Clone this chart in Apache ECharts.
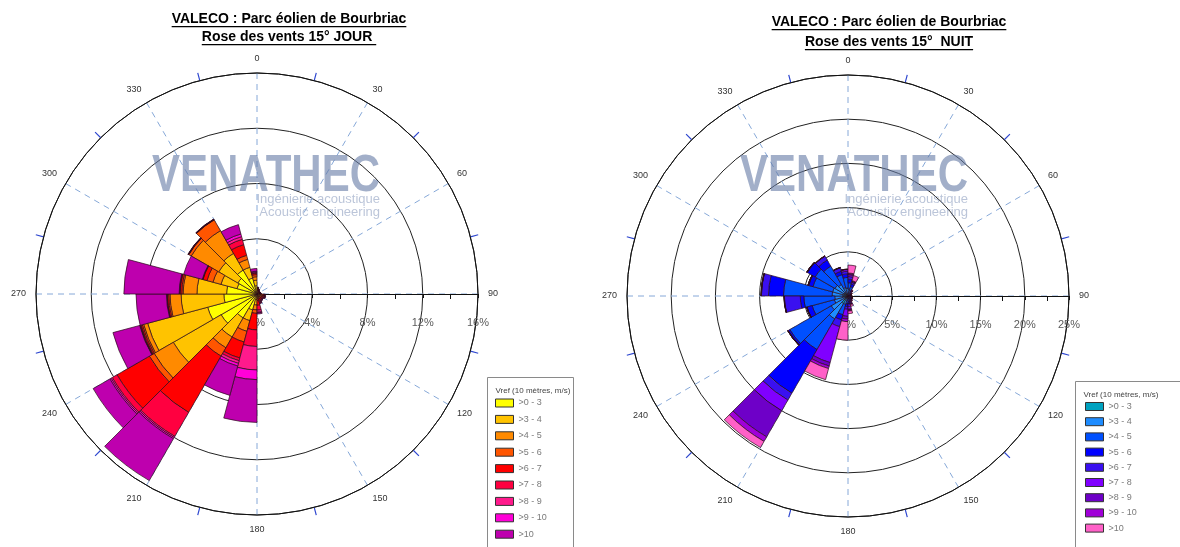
<!DOCTYPE html>
<html>
<head>
<meta charset="utf-8">
<script src="https://cdn.jsdelivr.net/npm/echarts@6/dist/echarts.min.js"></script>
<style>
html, body { margin: 0; padding: 0; background: #fff; }
#chart { width: 1180px; height: 547px; }
</style>
</head>
<body>
<div id="chart"></div>
<script>
// secteurs de 15°
var sectors = [];
for (var s = 0; s < 360; s += 15) sectors.push(String(s));

var binNames = ['>0 - 3', '>3 - 4', '>4 - 5', '>5 - 6', '>6 - 7', '>7 - 8', '>8 - 9', '>9 - 10', '>10'];

// JOUR (%)
var jour_0_3  = [0.15,0.12,0.10,0.10,0.10,0.10,0.15,0.15,0.12,0.12,0.12,0.15,0.40,1.20,2.00,3.00,3.70,2.40,2.20,1.50,1.60,2.00,1.20,0.60];
var jour_3_4  = [0.10,0.08,0.06,0.05,0.05,0.06,0.12,0.12,0.10,0.10,0.10,0.12,0.40,0.80,1.60,4.00,4.50,3.10,2.15,1.20,1.60,1.40,0.80,0.40];
var jour_4_5  = [0.05,0.05,0.04,0.03,0.03,0.04,0.10,0.10,0.08,0.08,0.08,0.10,0.35,0.80,0.90,1.60,0.30,0.80,1.00,0.60,2.30,1.90,0.60,0.25];
var jour_5_6  = [0.05,0.03,0.02,0.02,0.02,0.03,0.08,0.08,0.07,0.07,0.08,0.10,0.25,0.80,0.70,0.40,0.10,0.10,0.10,0.45,0.20,0.90,0.30,0.15];
var jour_6_7  = [0.05,0.03,0.02,0.02,0.02,0.02,0.07,0.08,0.07,0.08,0.12,0.35,1.20,1.20,4.70,2.70,0.10,0.10,0.12,0.30,0.02,0.02,0.80,0.10];
var jour_7_8  = [0.03,0.02,0.02,0.01,0.01,0.02,0.04,0.05,0.05,0.06,0.10,0.35,1.20,0.20,2.00,0.40,0.05,0.02,0.03,0.03,0.01,0.01,0.40,0.05];
var jour_8_9  = [0.02,0.02,0.01,0.01,0.01,0.01,0.02,0.03,0.03,0.04,0.06,0.15,1.70,0.20,0.10,0.10,0.03,0.02,0.02,0.01,0.01,0.01,0.20,0.05];
var jour_9_10 = [0.02,0.01,0.01,0.01,0.01,0.01,0.01,0.02,0.02,0.02,0.03,0.05,0.70,0.20,0.10,0.10,0.02,0.02,0.02,0.01,0.01,0.01,0.20,0.05];
var jour_10   = [0.03,0.02,0.02,0.01,0.01,0.01,0.01,0.02,0.02,0.03,0.04,0.08,3.10,2.20,3.50,1.40,2.00,2.20,4.00,1.40,0.02,0.02,0.70,0.20];

// NUIT (%)
var nuit_0_3  = [0.30,0.20,0.15,0.12,0.10,0.10,0.10,0.12,0.12,0.12,0.15,0.15,0.20,0.30,1.00,0.60,0.40,0.60,0.60,0.50,0.50,0.50,0.30,0.30];
var nuit_3_4  = [0.50,0.40,0.20,0.15,0.12,0.12,0.12,0.15,0.15,0.15,0.20,0.20,0.30,0.70,2.00,1.60,1.20,0.90,1.20,1.30,1.20,1.00,0.70,0.60];
var nuit_4_5  = [0.70,0.50,0.20,0.12,0.10,0.10,0.10,0.12,0.12,0.15,0.20,0.30,0.40,1.20,4.00,5.40,2.60,3.50,5.50,2.30,2.60,2.40,1.50,1.20];
var nuit_5_6  = [0.40,0.30,0.10,0.06,0.05,0.05,0.05,0.06,0.07,0.10,0.15,0.25,0.30,0.60,5.70,0.20,0.60,0.40,1.70,0.50,1.00,0.80,0.40,0.40];
var nuit_6_7  = [0.30,0.20,0.05,0.03,0.02,0.02,0.03,0.04,0.05,0.07,0.12,0.30,0.30,0.80,0.90,0.03,0.02,1.80,0.80,0.05,0.05,0.50,0.40,0.30];
var nuit_7_8  = [0.20,0.10,0.03,0.02,0.01,0.01,0.01,0.02,0.03,0.05,0.10,0.30,0.80,4.20,1.40,0.02,0.01,0.02,0.02,0.02,0.02,0.02,0.02,0.20];
var nuit_8_9  = [0.10,0.05,0.02,0.01,0.01,0.01,0.01,0.01,0.02,0.03,0.05,0.10,0.30,0.40,3.40,0.01,0.01,0.01,0.01,0.01,0.01,0.01,0.01,0.02];
var nuit_9_10 = [0.10,0.05,0.02,0.01,0.01,0.01,0.01,0.01,0.01,0.02,0.05,0.10,0.30,0.30,0.60,0.01,0.01,0.01,0.01,0.01,0.01,0.01,0.01,0.01];
var nuit_10   = [0.90,0.60,0.05,0.02,0.01,0.01,0.01,0.01,0.02,0.05,0.20,0.30,2.10,1.30,0.80,0.01,0.01,0.01,0.01,0.01,0.01,0.01,0.01,0.01];

var jourColors = ['#FFFF00','#FFC300','#FF8A00','#FF5500','#FF0000','#FF0040','#FF1A8C','#FF00D8','#BE00AE'];
var nuitColors = ['#00A2C0','#1E8CFF','#0050FF','#0000FF','#3A10F0','#8000FF','#6E00C8','#A000D8','#FF60C8'];

var jourMax = 16, jourStep = 4;
var nuitMax = 25, nuitStep = 5;

var chart = echarts.init(document.getElementById('chart'));
var FONT = '"Liberation Sans", Arial, sans-serif';

var angleAxis = [], radiusAxis = [], polar = [], series = [], graphic = [];

function addRose(center, max, step) {
    var base = polar.length;
    for (var k = 0; k < 3; k++) polar.push({ center: center, radius: 221 });
    // axes des barres
    angleAxis.push({ polarIndex: base, type: 'category', data: sectors, startAngle: 90, clockwise: true,
        axisLine: { show: false }, axisTick: { show: false }, axisLabel: { show: false }, splitLine: { show: false } });
    radiusAxis.push({ polarIndex: base, type: 'value', min: 0, max: max, show: false });
    // directions + cercles
    angleAxis.push({ polarIndex: base + 1, type: 'value', min: 0, max: 360, interval: 30, startAngle: 90, clockwise: true,
        axisLine: { lineStyle: { color: '#111', width: 1 } },
        axisTick: { show: false },
        minorTick: { show: true, splitNumber: 2, length: 8, lineStyle: { color: '#2f48d0', width: 1.2 } },
        axisLabel: { margin: 10, fontSize: 9, color: '#333', fontFamily: FONT },
        splitLine: { show: true, lineStyle: { color: '#86a8d8', width: 1, type: [6, 5] } } });
    radiusAxis.push({ polarIndex: base + 1, type: 'value', min: 0, max: max, interval: step,
        axisLine: { show: false }, axisTick: { show: false }, axisLabel: { show: false },
        splitLine: { show: true, lineStyle: { color: '#222', width: 1 } } });
    // axe radial horizontal vers 90
    angleAxis.push({ polarIndex: base + 2, type: 'value', min: 0, max: 360, startAngle: 0, show: false });
    radiusAxis.push({ polarIndex: base + 2, type: 'value', min: 0, max: max, interval: step, z: 1,
        axisLine: { lineStyle: { color: '#111', width: 1 } },
        axisTick: { length: -4, lineStyle: { color: '#111' } },
        minorTick: { show: true, splitNumber: 2, length: -5, lineStyle: { color: '#111' } },
        axisLabel: { margin: -34, formatter: '{value}%', fontSize: 11, color: '#5a5a5a', fontFamily: FONT },
        splitLine: { show: false } });
    return base;
}

function addSeries(prefix, polarIndex, bins, colors) {
    bins.forEach(function (d, i) {
        series.push({
            name: prefix + binNames[i], type: 'bar', coordinateSystem: 'polar', polarIndex: polarIndex,
            stack: prefix, data: d, barCategoryGap: '0%', z: 2,
            itemStyle: { color: colors[i], borderColor: '#2a0d18', borderWidth: 0.7 },
            emphasis: { disabled: true }
        });
    });
}

var pJour = addRose([257, 294], jourMax, jourStep);
var pNuit = addRose([848, 296], nuitMax, nuitStep);
addSeries('J', pJour, [jour_0_3, jour_3_4, jour_4_5, jour_5_6, jour_6_7, jour_7_8, jour_8_9, jour_9_10, jour_10], jourColors);
addSeries('N', pNuit, [nuit_0_3, nuit_3_4, nuit_4_5, nuit_5_6, nuit_6_7, nuit_7_8, nuit_8_9, nuit_9_10, nuit_10], nuitColors);

// titres soulignés
var ctx = document.createElement('canvas').getContext('2d');
function title(txt, cx, cy) {
    var font = 'bold 14px ' + FONT;
    ctx.font = font;
    var w = ctx.measureText(txt).width;
    graphic.push({ type: 'text', x: cx, y: cy, z: 10,
        style: { text: txt, font: font, fill: '#000', textAlign: 'center', textVerticalAlign: 'middle', align: 'center', verticalAlign: 'middle' } });
    graphic.push({ type: 'rect', z: 10, shape: { x: cx - w / 2, y: cy + 7, width: w, height: 1.2 }, style: { fill: '#000' } });
}
title('VALECO : Parc éolien de Bourbriac', 289, 19);
title('Rose des vents 15° JOUR ', 289, 37);
title('VALECO : Parc éolien de Bourbriac', 889, 22);
title('Rose des vents 15°  NUIT', 889, 42);

// filigrane
function watermark(right, top) {
    graphic.push({ type: 'text', x: right, y: top, z: 20, scaleY: 1.25,
        style: { text: 'VENATHEC', font: 'bold 42px ' + FONT, fill: 'rgba(100,122,165,0.6)', textAlign: 'right', align: 'right', textVerticalAlign: 'top', verticalAlign: 'top' } });
    graphic.push({ type: 'text', x: right, y: top + 43, z: 20,
        style: { text: 'Ingénierie acoustique', font: '13px ' + FONT, fill: 'rgba(120,140,180,0.5)', textAlign: 'right', align: 'right', textVerticalAlign: 'top', verticalAlign: 'top' } });
    graphic.push({ type: 'text', x: right, y: top + 56, z: 20,
        style: { text: 'Acoustic engineering', font: '13px ' + FONT, fill: 'rgba(120,140,180,0.5)', textAlign: 'right', align: 'right', textVerticalAlign: 'top', verticalAlign: 'top' } });
}
watermark(380, 150);
watermark(968, 150);

// cadres de légende
function legendBox(x, y, w, h) {
    graphic.push({ type: 'rect', z: 3, shape: { x: x, y: y, width: w, height: h }, style: { fill: '#fff', stroke: '#8a8a8a', lineWidth: 1 } });
    graphic.push({ type: 'text', x: x + 8, y: y + 13, z: 5,
        style: { text: 'Vref (10 mètres, m/s)', font: '8px ' + FONT, fill: '#444', textAlign: 'left', align: 'left', textVerticalAlign: 'middle', verticalAlign: 'middle' } });
}
legendBox(487.5, 377.5, 86, 180);
legendBox(1075.5, 381.5, 120, 180);

function legend(prefix, left, top, gap) {
    return {
        data: binNames.map(function (n) { return prefix + n; }),
        orient: 'vertical', left: left, top: top, icon: 'rect',
        itemWidth: 18, itemHeight: 8, itemGap: gap, padding: 0, selectedMode: false, z: 6,
        formatter: function (name) { return name.slice(1); },
        itemStyle: { borderColor: '#333', borderWidth: 1 },
        textStyle: { fontSize: 9, color: '#7a7a7a', fontFamily: FONT, lineHeight: 10 }
    };
}

chart.setOption({
    animation: false,
    polar: polar,
    angleAxis: angleAxis,
    radiusAxis: radiusAxis,
    legend: [legend('J', 495, 398, 6.4), legend('N', 1085, 401.5, 5.2)],
    graphic: graphic,
    series: series
});
</script>
</body>
</html>
